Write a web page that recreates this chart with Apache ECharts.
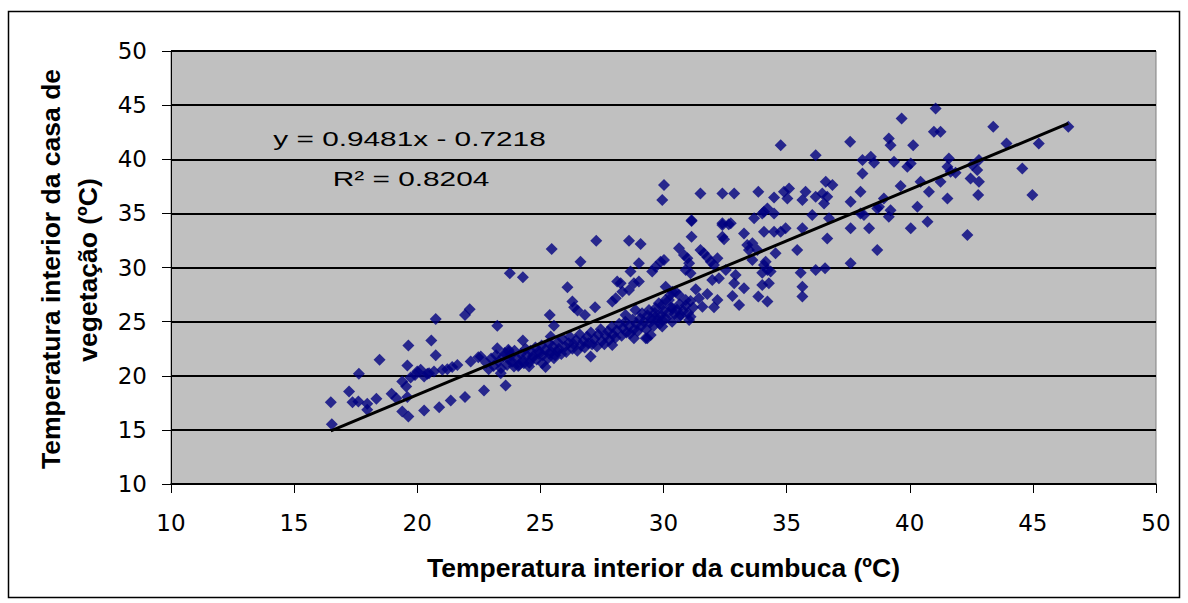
<!DOCTYPE html>
<html>
<head>
<meta charset="utf-8">
<script src="https://cdn.jsdelivr.net/npm/echarts@6/dist/echarts.min.js"></script>
<style>
html,body{margin:0;padding:0;background:#fff;}
#chart{width:1188px;height:603px;}
</style>
</head>
<body>
<div id="chart"></div>
<script>
// Axis setup
const axisMin = 10, axisMax = 50, axisStep = 5;
const xTitle = 'Temperatura interior da cumbuca (ºC)';
const yTitleLine1 = 'Temperatura interior da casa de';
const yTitleLine2 = 'vegetação (ºC)';
// Trendline shown in chart
const trendSlope = 0.9481;
const trendIntercept = -0.7218;
const trendLabel = 'y = 0.9481x - 0.7218';
const r2Label = 'R² = 0.8204';

const lowLeft = [[16.49,17.56],[16.53,15.53],[17.23,18.54],[17.37,17.56],[17.61,17.62],[17.63,20.18],[17.97,17.41],[17.97,16.85],[18.34,17.87],[18.47,21.47],[18.96,18.33],[19.15,17.93],[19.39,16.7],[19.64,16.24],[19.39,19.47],[19.55,19.0],[19.6,18.03],[19.6,20.94],[19.64,22.79],[19.91,20.08],[20.14,20.55],[20.28,16.79],[20.28,19.93],[20.48,20.24],[20.57,23.25],[20.75,25.25],[20.75,21.9],[20.68,20.39],[20.89,17.1],[21.02,20.55],[21.36,17.72],[21.42,20.8],[21.63,21.0],[21.94,18.03],[21.94,25.62],[22.13,26.14],[22.17,21.31],[22.48,21.72],[22.71,18.64],[23.25,24.63],[23.25,22.55],[23.39,20.24],[23.59,19.1],[23.7,22.4],[24.29,23.25],[25.38,25.62],[25.55,24.63],[23.72,21.47],[23.93,20.86],[24.13,21.0],[24.33,21.16],[24.54,20.86],[24.67,21.62],[24.94,22.24],[25.08,21.16],[25.21,20.8],[25.35,22.09],[25.55,21.62],[25.69,22.24],[19.73,19.84],[20.0,20.39],[20.41,20.18],[21.22,20.6]];

const midLeft = [[23.76,29.46],[24.29,29.1],[25.46,31.7],[26.63,30.54],[27.27,32.47],[28.6,32.47],[29.07,32.17],[31.14,34.3],[31.14,32.84],[32.39,33.93],[32.65,34.0],[32.39,32.84],[33.27,33.15],[33.4,32.07],[26.1,28.17],[26.3,26.85],[26.37,26.33],[26.51,26.02],[26.81,25.62],[27.22,26.33],[29.0,30.39],[28.66,29.62],[28.12,28.7],[28.26,28.54],[28.8,28.54],[29.0,28.7],[29.54,29.62],[29.88,30.54],[30.02,30.7],[29.68,30.07],[30.63,31.77],[30.83,31.16],[30.97,30.85],[31.04,30.39],[30.9,29.77],[31.1,29.46],[31.5,31.61],[31.64,31.31],[31.78,30.94],[31.92,30.54],[32.19,30.85],[32.53,29.77],[31.98,28.85],[32.25,29.0],[32.93,29.3],[32.87,28.54],[33.27,28.08],[32.8,27.37],[33.07,26.54],[31.78,27.55],[32.19,27.0],[32.05,26.33],[31.58,26.38],[31.31,27.98],[31.44,27.16],[31.04,25.16],[31.1,25.46],[29.95,24.54],[30.63,25.46],[30.36,26.24],[30.22,27.0],[29.95,26.54],[29.68,26.24],[30.09,28.23],[30.36,27.77],[30.63,27.46],[30.9,27.0],[29.34,23.46],[29.48,23.77],[28.8,23.46],[27.92,22.85],[27.04,21.77],[25.42,23.62]];

const midRight = [[36.18,40.38],[38.08,39.92],[38.42,40.22],[38.55,39.67],[39.36,39.77],[39.9,39.3],[40.04,39.61],[38.08,38.69],[41.53,39.3],[31.5,36.84],[32.39,36.84],[32.87,36.84],[33.85,36.99],[34.49,36.47],[34.89,36.99],[35.1,37.3],[35.03,36.38],[35.77,36.99],[35.64,36.23],[36.18,36.53],[36.45,36.84],[36.59,37.92],[36.86,37.61],[36.65,36.53],[36.52,35.92],[38.0,36.99],[37.6,36.07],[38.95,36.38],[39.63,37.52],[40.44,37.92],[41.25,37.92],[40.78,36.99],[41.53,36.38],[38.0,35.0],[38.14,34.84],[38.68,35.46],[39.22,35.3],[39.15,34.69],[40.31,35.61],[37.6,33.62],[38.35,33.62],[40.04,33.62],[40.72,34.23],[38.68,31.61],[37.6,30.39],[34.08,35.15],[34.22,35.46],[34.49,35.0],[33.68,34.54],[36.04,34.84],[36.72,34.54],[32.39,34.08],[32.73,34.08],[32.46,32.6],[33.61,32.23],[34.08,33.31],[34.49,33.31],[34.76,33.31],[34.96,33.62],[35.64,33.62],[36.65,32.69],[35.43,31.61],[34.55,31.31],[33.81,31.61],[33.61,30.69],[34.15,30.54],[34.08,30.23],[34.22,29.77],[34.35,29.62],[34.01,29.52],[35.57,29.52],[36.18,29.77],[36.56,29.92],[32.05,30.23],[33.85,27.31],[34.22,26.85],[34.01,28.39],[34.28,28.54],[35.64,28.23],[35.64,27.31],[33.47,31.61]];

const topRight = [[41.05,44.69],[39.67,43.76],[40.98,42.54],[41.25,42.54],[43.39,43.0],[46.44,43.0],[39.15,41.92],[39.22,41.3],[40.14,41.3],[43.93,41.46],[45.24,41.46],[41.59,40.07],[41.66,38.84],[41.86,38.75],[42.54,39.46],[42.81,39.92],[42.74,39.0],[42.47,38.23],[42.81,37.92],[42.78,36.69],[44.57,39.15],[44.98,36.69],[38.75,35.61],[42.34,33.0],[34.76,41.3],[37.58,41.61],[30.02,37.61],[29.95,36.23],[31.14,34.36],[34.01,35.0]];

const bandEdge = [[22.58,21.77],[23.72,22.24],[29.28,23.46],[28.46,25.62],[28.86,26.08],[29.13,25.77],[29.41,26.08],[29.81,26.7],[30.08,27.0],[30.28,27.46],[30.49,27.77],[29.68,25.46],[29.95,25.16],[27.92,26.85],[28.06,27.16],[28.33,27.77],[28.6,27.92]];

const denseBand = [[22.8,21.2],[22.9,20.6],[23.0,21.6],[23.1,20.9],[23.2,21.9],[23.3,21.3],[23.4,20.7],[23.5,21.8],[23.55,22.1],[23.65,21.0],[23.8,21.9],[23.85,21.3],[23.95,22.3],[24.05,21.6],[24.1,20.9],[24.2,22.0],[24.3,21.4],[24.4,22.5],[24.45,21.9],[24.55,21.2],[24.6,22.3],[24.7,21.8],[24.8,22.6],[24.85,21.5],[24.95,22.0],[25.05,22.8],[25.1,21.9],[25.2,22.4],[25.3,21.6],[25.35,23.0],[25.45,22.2],[25.5,22.7],[25.6,21.9],[25.7,23.1],[25.75,22.5],[25.85,22.0],[25.9,23.4],[26.0,22.7],[26.05,22.2],[26.15,23.0],[26.2,23.6],[26.3,22.5],[26.35,22.9],[26.45,23.3],[26.5,22.3],[26.6,23.8],[26.65,22.8],[26.75,23.2],[26.8,22.6],[26.9,23.6],[26.95,23.0],[27.05,24.0],[27.1,22.9],[27.2,23.4],[27.3,22.7],[27.35,23.8],[27.45,24.3],[27.5,23.2],[27.6,22.9],[27.65,23.7],[27.75,24.1],[27.8,23.3],[27.9,24.5],[27.95,23.8],[28.05,23.5],[28.1,24.2],[28.2,24.8],[28.3,23.7],[28.35,24.4],[28.45,25.0],[28.5,24.0],[28.6,24.6],[28.65,23.9],[28.75,25.2],[28.8,24.3],[28.9,24.8],[28.95,24.1],[29.05,25.3],[29.1,24.6],[29.2,25.0],[29.3,24.3],[29.35,25.6],[29.45,24.9],[29.5,25.3],[29.6,24.6],[29.65,25.8],[29.75,25.1],[29.85,24.8],[29.9,25.6],[30.0,26.0],[30.1,25.3],[30.2,25.8],[30.3,26.3],[30.35,25.0],[30.45,25.7],[30.55,26.1],[30.65,26.6],[30.7,25.6],[30.8,26.0],[30.9,26.5],[31.0,25.8],[31.1,26.9],[31.2,26.3]];

const points = [].concat(lowLeft, midLeft, midRight, topRight, bandEdge, denseBand);
const xValues = points.map(function (p) { return p[0]; });
const xLow = Math.min.apply(null, xValues);
const xHigh = Math.max.apply(null, xValues);
const trendData = [[xLow, trendSlope * xLow + trendIntercept], [xHigh, trendSlope * xHigh + trendIntercept]];

const chart = echarts.init(document.getElementById('chart'), null, { renderer: 'svg' });
const tickFont = { fontFamily: 'DejaVu Sans', fontSize: 23, color: '#000' };

chart.setOption({
  animation: false,
  backgroundColor: '#ffffff',
  grid: { left: 171, top: 51, width: 985, height: 433, show: true, backgroundColor: '#C0C0C0', borderColor: '#808080', borderWidth: 1 },
  xAxis: {
    type: 'value', min: axisMin, max: axisMax, interval: axisStep,
    axisLine: { show: true, onZero: false, lineStyle: { color: '#000', width: 1.5 } },
    axisTick: { show: true, inside: false, length: 9, lineStyle: { color: '#000', width: 1 } },
    axisLabel: Object.assign({ margin: 27 }, tickFont),
    splitLine: { show: false }
  },
  yAxis: {
    type: 'value', min: axisMin, max: axisMax, interval: axisStep,
    axisLine: { show: true, onZero: false, lineStyle: { color: '#000', width: 1 } },
    axisTick: { show: true, inside: false, length: 9, lineStyle: { color: '#000', width: 1 } },
    axisLabel: Object.assign({ margin: 24 }, tickFont),
    splitLine: { show: true, lineStyle: { color: '#000', width: 2 } }
  },
  series: [
    { type: 'scatter', data: points, symbol: 'diamond', symbolSize: 12, itemStyle: { color: '#000080' }, z: 2, silent: true },
    { type: 'line', data: trendData, symbol: 'none', lineStyle: { color: '#000', width: 3 }, z: 3, silent: true }
  ],
  graphic: [
    { type: 'rect', silent: true, z: 100, shape: { x: 8.5, y: 11.5, width: 1171, height: 586 }, style: { fill: 'none', stroke: '#000', lineWidth: 1.5 } },
    { type: 'text', silent: true, z: 100, x: 663.5, y: 568, style: { text: xTitle, font: 'bold 26.5px "Liberation Sans", Arial, sans-serif', fill: '#000', textAlign: 'center', textVerticalAlign: 'middle', align: 'center', verticalAlign: 'middle' } },
    { type: 'text', silent: true, z: 100, x: 51, y: 269, rotation: Math.PI / 2, style: { text: yTitleLine1, font: 'bold 26.5px "Liberation Sans", Arial, sans-serif', fill: '#000', textAlign: 'center', textVerticalAlign: 'middle', align: 'center', verticalAlign: 'middle' } },
    { type: 'text', silent: true, z: 100, x: 88, y: 270, rotation: Math.PI / 2, style: { text: yTitleLine2, font: 'bold 26.5px "Liberation Sans", Arial, sans-serif', fill: '#000', textAlign: 'center', textVerticalAlign: 'middle', align: 'center', verticalAlign: 'middle' } },
    { type: 'text', silent: true, z: 100, x: 409.5, y: 138.5, scaleX: 1.42, style: { text: trendLabel, font: '21px "Liberation Sans", Arial, sans-serif', fill: '#000', textAlign: 'center', textVerticalAlign: 'middle', align: 'center', verticalAlign: 'middle' } },
    { type: 'text', silent: true, z: 100, x: 411, y: 178.5, scaleX: 1.42, style: { text: r2Label, font: '21px "Liberation Sans", Arial, sans-serif', fill: '#000', textAlign: 'center', textVerticalAlign: 'middle', align: 'center', verticalAlign: 'middle' } }
  ]
});
</script>
</body>
</html>
